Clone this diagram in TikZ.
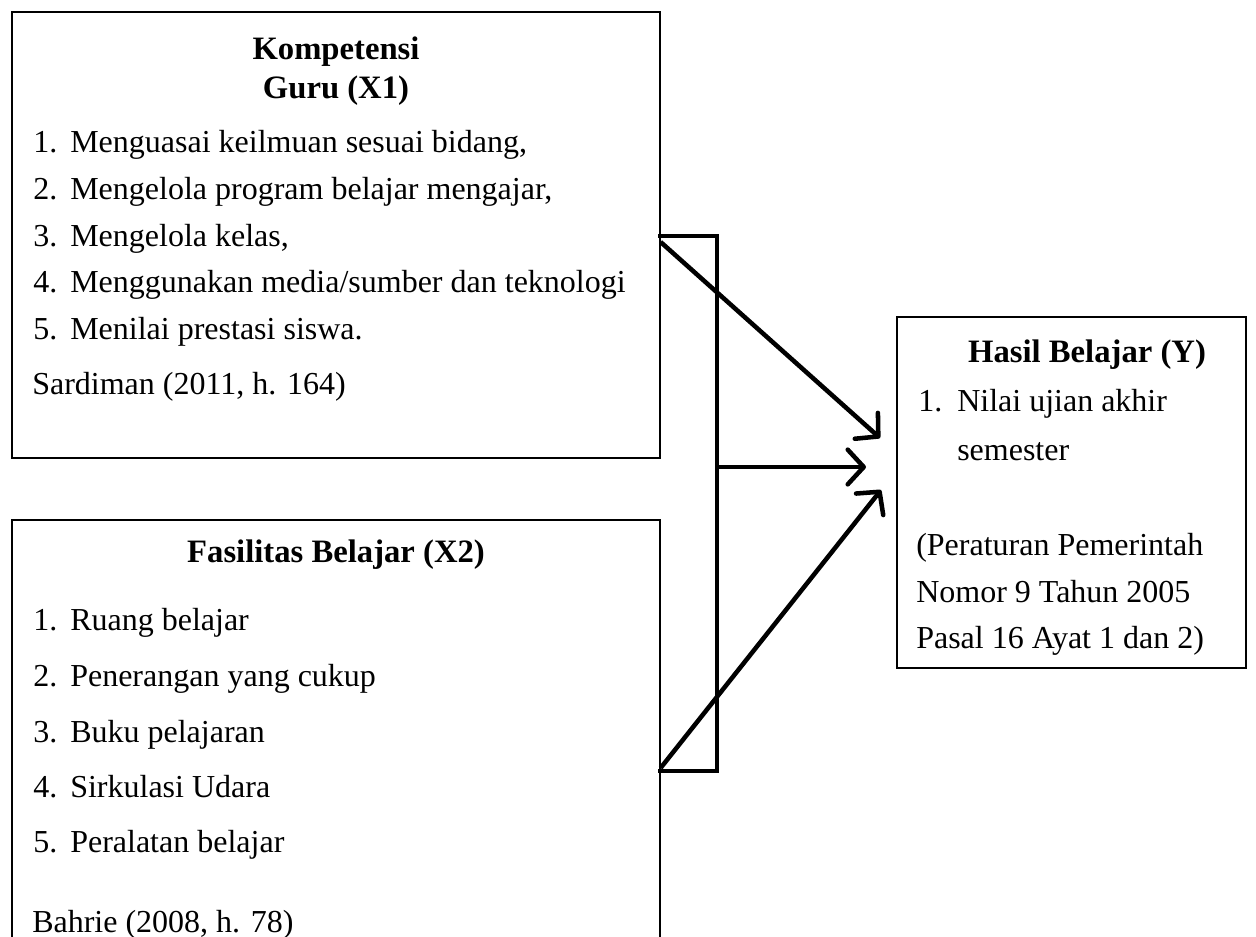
\documentclass[tikz,border=0pt]{standalone}
\usepackage{fontspec}
\setmainfont{Liberation Serif}
\usetikzlibrary{arrows.meta,fit,positioning}

\tikzset{
  box/.style={draw, line width=0.9pt, inner sep=0pt},
  txt/.style={anchor=base west, inner sep=0pt, font=\fontsize{24}{28}\selectfont},
  head/.style={anchor=base, inner sep=0pt, font=\fontsize{24.5}{28}\selectfont\bfseries},
  bracket/.style={line width=3.4pt, line cap=rect},
  link/.style={line width=3.4pt, -{Straight Barb[length=12pt,width=26pt,line width=3.4pt,round]}}
}

\begin{document}
\begin{tikzpicture}[x=0.75pt, y=-0.75pt]
            \useasboundingbox (0,0) rectangle (1256,937);
            % boxes
            \node[box, fit={(12,12) (660,458)}] (guru) {};
            \node[box, fit={(12,520) (660,960)}] (fasilitas) {};
            \node[box, fit={(897,317) (1246,668)}] (hasil) {};
            % competence of teachers
            \node[head] (guruA) at (336,60) {Kompetensi};
            \node[head] (guruB) at (336,99) {Guru (X1)};
            \foreach \i/\yy/\t in {1/153/{Menguasai keilmuan sesuai bidang,},
                                   2/200/{Mengelola program belajar mengajar,},
                                   3/247/{Mengelola kelas,},
                                   4/293/{Menggunakan media/sumber dan teknologi},
                                   5/340/{Menilai prestasi siswa.}} {
              \node[txt] (gn\i) at (33,\yy) {\i.};
              \node[txt] (gi\i) at (70,\yy) {\t};
            }
            \node[txt] (guruRef) at (32,395) {Sardiman (2011, h. 164)};
            % learning facilities
            \node[head] (fasA) at (336,562) {Fasilitas Belajar (X2)};
            \foreach \i/\yy/\t in {1/630/{Ruang belajar},
                                   2/686/{Penerangan yang cukup},
                                   3/742/{Buku pelajaran},
                                   4/797/{Sirkulasi Udara},
                                   5/852/{Peralatan belajar}} {
              \node[txt] (fn\i) at (33,\yy) {\i.};
              \node[txt] (fi\i) at (70,\yy) {\t};
            }
            \node[txt] (fasRef) at (32,932) {Bahrie (2008, h. 78)};
            % learning outcome
            \node[head] (hasA) at (1087,363) {Hasil Belajar (Y)};
            \node[txt] (hn1) at (918,412) {1.};
            \node[txt] (hi1) at (957,412) {Nilai ujian akhir};
            \node[txt] (hi1b) at (957,460) {semester};
            \node[txt] (hasRef1) at (916,555) {(Peraturan Pemerintah};
            \node[txt] (hasRef2) at (916,602) {Nomor 9 Tahun 2005};
            \node[txt] (hasRef3) at (916,648) {Pasal 16 Ayat 1 dan 2)};
            % bracket and arrows
            \coordinate (bTop) at (guru.east |- 0,236);
            \coordinate (bBot) at (fasilitas.east |- 0,771);
            \coordinate (bMid) at (717,467);
            \draw[bracket] (bTop) -- (717,236) -- (717,771) -- (bBot);
            \coordinate (s1) at (guru.east |- 0,242);
            \coordinate (s3) at (fasilitas.east |- 0,768);
            \coordinate (t1) at (880,438);
            \coordinate (t2) at (866,467);
            \coordinate (t3) at (881,490);
            \draw[link] (s1) -- (t1);
            \draw[link] (bMid) -- (t2);
            \draw[link] (s3) -- (t3);
        \end{tikzpicture}
\end{document}
